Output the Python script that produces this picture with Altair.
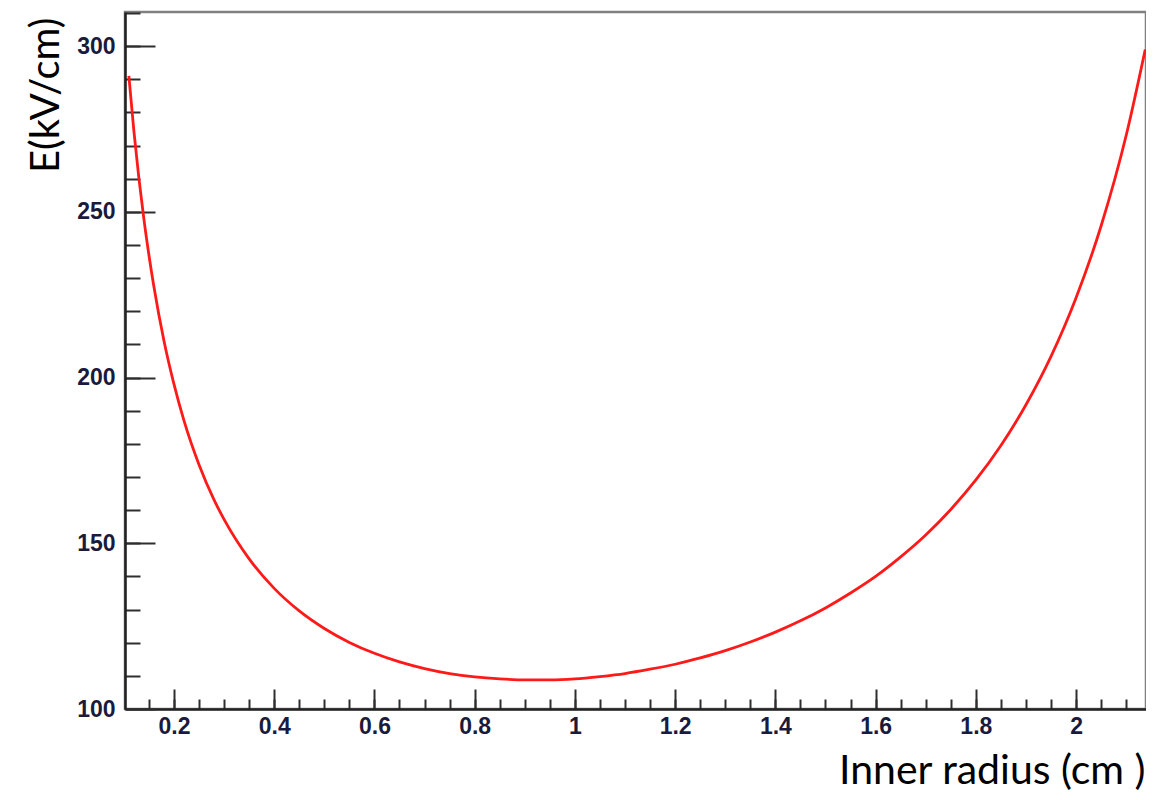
import altair as alt
import pandas as pd

radius = [0.11, 0.12, 0.13, 0.14, 0.15, 0.16, 0.18, 0.20, 0.22, 0.25, 0.28, 0.30, 0.35,
          0.40, 0.45, 0.50, 0.55, 0.60, 0.65, 0.70, 0.75, 0.80, 0.85, 0.90, 0.95, 1.00,
          1.05, 1.10, 1.15, 1.20, 1.25, 1.30, 1.35, 1.40, 1.45, 1.50, 1.55, 1.60, 1.65,
          1.70, 1.75, 1.80, 1.85, 1.90, 1.95, 2.00, 2.05, 2.10, 2.138]
field = [291.0, 274.4, 260.2, 247.8, 237.0, 227.4, 211.1, 198.0, 187.0, 173.7, 163.1, 157.2, 145.3,
         136.4, 129.6, 124.3, 120.1, 116.8, 114.2, 112.2, 110.7, 109.7, 109.1, 108.8, 108.8, 109.1,
         109.8, 110.7, 112.0, 113.5, 115.4, 117.6, 120.2, 123.2, 126.6, 130.5, 135.0, 140.0, 145.9,
         152.5, 160.2, 169.1, 179.5, 191.8, 206.4, 224.1, 245.8, 273.1, 299.0]

x_major = [0.2, 0.4, 0.6, 0.8, 1.0, 1.2, 1.4, 1.6, 1.8, 2.0]
x_minor = [0.15, 0.2, 0.25, 0.3, 0.35, 0.4, 0.45, 0.5, 0.55, 0.6, 0.65, 0.7, 0.75, 0.8,
           0.85, 0.9, 0.95, 1.0, 1.05, 1.1, 1.15, 1.2, 1.25, 1.3, 1.35, 1.4, 1.45, 1.5,
           1.55, 1.6, 1.65, 1.7, 1.75, 1.8, 1.85, 1.9, 1.95, 2.0, 2.05, 2.1]
y_major = [100, 150, 200, 250, 300]
y_minor = [110, 120, 130, 140, 150, 160, 170, 180, 190, 200, 210, 220, 230, 240, 250,
           260, 270, 280, 290, 300, 310]

x_domain = [0.1023, 2.1395]
y_domain = [100, 310.3]

df = pd.DataFrame({"r": radius, "E": field})

xs = alt.Scale(domain=x_domain, nice=False, zero=False)
ys = alt.Scale(domain=y_domain, nice=False, zero=False)

TICK = "#2e2e2e"
LABEL = "#1a1a3c"

line = alt.Chart(df).mark_line(color="#ff1a1a", strokeWidth=2.8, interpolate="monotone", clip=True).encode(
    x=alt.X("r:Q", scale=xs, axis=alt.Axis(
        orient="bottom", values=x_major, format="~g", ticks=False, domain=True,
        domainColor="#222222", domainWidth=2.5, labelFont="Liberation Sans",
        labelFontSize=23, labelFontWeight="bold", labelColor=LABEL, labelPadding=6,
        labelFlush=False,
        title="Inner radius (cm )", titleFont="Lato", titleFontSize=41,
        titleFontWeight="normal", titleColor="#000000", titleAnchor="end",
        titleAlign="right", titleBaseline="alphabetic", titleX=1020, titleY=74)),
    y=alt.Y("E:Q", scale=ys, axis=alt.Axis(
        orient="left", values=y_major, format="d", ticks=False, domain=True,
        domainColor="#222222", domainWidth=2.5, labelFont="Liberation Sans",
        labelFontSize=23, labelFontWeight="bold", labelColor=LABEL, labelPadding=10,
        labelFlush=False,
        title="E(kV/cm)", titleFont="Lato", titleFontSize=40, titleFontWeight="normal",
        titleColor="#000000", titleAngle=270, titleAnchor="end", titleAlign="right",
        titleBaseline="alphabetic", titleX=-67, titleY=5)),
)


def tick_layer(xvals, xlen, yvals, ylen):
    return alt.Chart(df).mark_point(opacity=0).encode(
        x=alt.X("r:Q", scale=xs, axis=alt.Axis(
            orient="bottom", values=xvals, tickSize=xlen, offset=-xlen, tickColor=TICK,
            tickWidth=2, labels=False, domain=False, title=None)),
        y=alt.Y("E:Q", scale=ys, axis=alt.Axis(
            orient="left", values=yvals, tickSize=ylen, offset=-ylen, tickColor=TICK,
            tickWidth=2, labels=False, domain=False, title=None)),
    )


major = tick_layer(x_major, 20, y_major, 30)
minor = tick_layer(x_minor, 10, y_minor, 15)

chart = alt.layer(minor, major, line).resolve_axis(x="independent", y="independent").properties(
    width=1021, height=697,
    autosize=alt.AutoSizeParams(type="none"),
    padding={"left": 117, "top": 4, "right": 0, "bottom": 83},
).configure_view(stroke="#808080", strokeWidth=2.5).configure_axis(grid=False)

chart.save("out.html", embed_options={"renderer": "svg", "actions": False})
